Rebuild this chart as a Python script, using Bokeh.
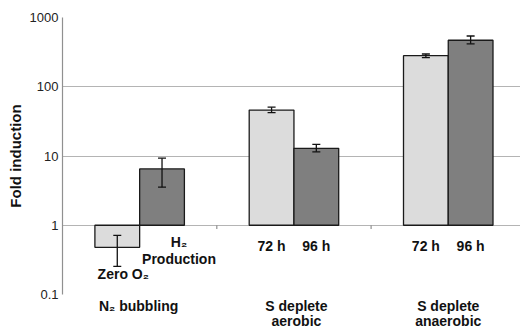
from bokeh.plotting import figure
from bokeh.models import (Range1d, ColumnDataSource, Whisker, TeeHead, FixedTicker,
                          CustomJSTickFormatter, Label, LinearAxis)
from bokeh.embed import file_html
from bokeh.resources import INLINE

# ---------------- data ----------------
groups = ["N\u2082 bubbling", "S deplete\naerobic", "S deplete\nanaerobic"]
light_vals = [0.48, 46, 281]
light_low = [0.255, 42.4, 263]
light_high = [0.716, 50.7, 297]
dark_vals = [6.5, 12.9, 469]
dark_low = [3.55, 11.5, 417]
dark_high = [9.3, 14.7, 541]
light_labels = ["Zero O\u2082", "72 h", "72 h"]
dark_labels = ["H\u2082\nProduction", "96 h", "96 h"]
y_ticks = [0.1, 1, 10, 100, 1000]

# ---------------- layout ----------------
FONT = "Liberation Sans"
BAR_W = 0.29
UNIT_PX = 154.3
FRAME_W = 458
FRAME_H = 277
n = len(groups)
centers = [i + 0.5 for i in range(n)]
cat_label_shift_px = [-1, 2.5, 0]

p = figure(frame_width=FRAME_W, frame_height=FRAME_H, output_backend="svg",
           toolbar_location=None,
           y_axis_type="log", x_range=Range1d(0, FRAME_W / UNIT_PX),
           y_range=Range1d(0.1, 1000),
           min_border_left=62, min_border_right=0, min_border_top=17,
           min_border_bottom=0)
p.outline_line_color = None
p.background_fill_color = "white"
p.border_fill_color = "white"

p.xaxis.visible = False
p.xgrid.visible = False
p.ygrid.ticker = FixedTicker(ticks=y_ticks)
p.ygrid.grid_line_color = "#b4b4b4"
p.ygrid.grid_line_width = 1.2

yax = p.yaxis[0]
yax.ticker = FixedTicker(ticks=y_ticks)
yax.formatter = CustomJSTickFormatter(code="return String(Math.round(tick*10)/10);")
yax.major_tick_out = 0
yax.major_tick_in = 0
yax.minor_tick_line_color = None
yax.axis_line_color = "#909090"
yax.axis_line_width = 1.2
yax.major_label_standoff = 4
yax.major_label_text_font = FONT
yax.major_label_text_font_size = "13px"
yax.major_label_text_color = "#222222"
yax.axis_label = "Fold induction"
yax.axis_label_text_font = FONT
yax.axis_label_text_font_style = "bold"
yax.axis_label_text_font_size = "15px"
yax.axis_label_text_color = "#111111"
yax.axis_label_standoff = 3

# category axis (labels only) below the frame
cat_ticks = [c + s / UNIT_PX for c, s in zip(centers, cat_label_shift_px)]
cat_axis = LinearAxis(ticker=FixedTicker(ticks=cat_ticks),
                      formatter=CustomJSTickFormatter(args=dict(labels=groups),
                                                      code="return labels[Math.floor(tick)];"))
cat_axis.axis_line_color = None
cat_axis.major_tick_line_color = None
cat_axis.major_tick_out = 0
cat_axis.major_tick_in = 0
cat_axis.minor_tick_line_color = None
cat_axis.major_label_standoff = 3
cat_axis.major_label_text_align = "left"
cat_axis.major_label_text_font = FONT
cat_axis.major_label_text_font_style = "bold"
cat_axis.major_label_text_font_size = "14px"
cat_axis.major_label_text_color = "#111111"
cat_axis.major_label_text_line_height = 0.98
p.add_layout(cat_axis, "below")

light_x = [c - BAR_W / 2 for c in centers]
dark_x = [c + BAR_W / 2 for c in centers]

src_l = ColumnDataSource(dict(x=light_x, top=light_vals, lo=light_low, hi=light_high))
src_d = ColumnDataSource(dict(x=dark_x, top=dark_vals, lo=dark_low, hi=dark_high))

p.vbar(x="x", top="top", bottom=1, width=BAR_W, source=src_l,
       fill_color="#dcdcdc", line_color="#1a1a1a", line_width=1.3)
p.vbar(x="x", top="top", bottom=1, width=BAR_W, source=src_d,
       fill_color="#7f7f7f", line_color="#1a1a1a", line_width=1.3)

for src in (src_l, src_d):
    w = Whisker(base="x", lower="lo", upper="hi", source=src, line_color="#111111",
                line_width=1.3, level="overlay",
                upper_head=TeeHead(size=8, line_color="#111111", line_width=1.3),
                lower_head=TeeHead(size=8, line_color="#111111", line_width=1.3))
    p.add_layout(w)

# category separator ticks on the value-1 baseline
for i in range(1, n):
    p.segment(x0=i, x1=i, y0=1, y1=0.88, line_color="#909090", line_width=1.2)

# labels under bars (groups 2 and 3)
for i in range(1, n):
    p.add_layout(Label(x=light_x[i], y=1, y_offset=-21, text=light_labels[i],
                       text_align="center", text_baseline="middle",
                       text_font=FONT, text_font_style="bold", text_font_size="14px",
                       text_color="#111111"))
    p.add_layout(Label(x=dark_x[i], y=1, y_offset=-21, text=dark_labels[i],
                       text_align="center", text_baseline="middle",
                       text_font=FONT, text_font_style="bold", text_font_size="14px",
                       text_color="#111111"))

# group 1 annotations
p.add_layout(Label(x=light_x[0], y=1, x_offset=6, y_offset=-49, text=light_labels[0],
                   text_align="center", text_baseline="middle",
                   text_font=FONT, text_font_style="bold", text_font_size="14px",
                   text_color="#111111"))
p.add_layout(Label(x=dark_x[0], y=1, x_offset=17, y_offset=-9, text=dark_labels[0],
                   text_align="center", text_baseline="top", text_line_height=1.05,
                   text_font=FONT, text_font_style="bold", text_font_size="14px",
                   text_color="#111111"))

open("out.html", "w").write(file_html(p, INLINE))
